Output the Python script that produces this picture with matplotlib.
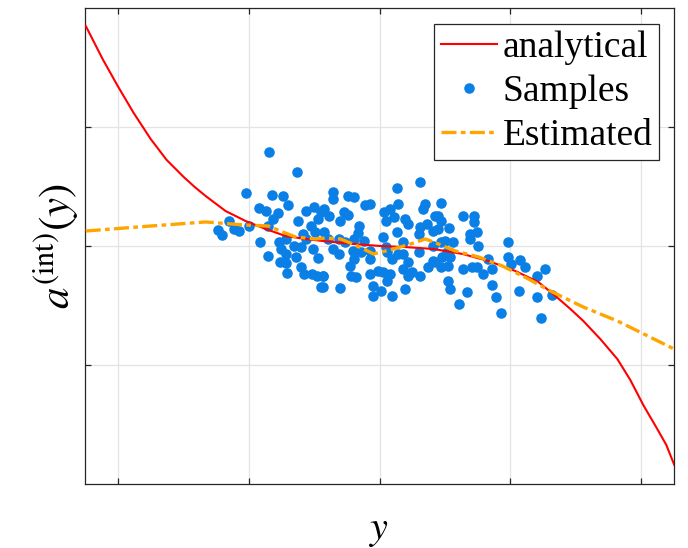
import numpy as np
import matplotlib
matplotlib.use("Agg")
import matplotlib.pyplot as plt

plt.rcParams["font.family"] = ["Liberation Serif", "DejaVu Serif"]
plt.rcParams["mathtext.fontset"] = "stix"

# analytical curve
analytic_x = [-2.244, -2.115, -2.000, -1.878, -1.748, -1.626, -1.496, -1.412, -1.328,
              -1.176, -1.023, -0.870, -0.718, -0.565, -0.435, -0.198, 0.008, 0.183,
              0.412, 0.634, 0.832, 1.038, 1.214, 1.344, 1.458, 1.557, 1.687, 1.817,
              1.916, 2.015, 2.122, 2.191, 2.252]
analytic_y = [1.849, 1.571, 1.345, 1.118, 0.899, 0.723, 0.580, 0.496, 0.420,
              0.294, 0.210, 0.143, 0.084, 0.059, 0.042, 0.017, 0.000, -0.008,
              -0.025, -0.067, -0.126, -0.210, -0.303, -0.420, -0.529, -0.630, -0.782, -0.950,
              -1.126, -1.336, -1.538, -1.672, -1.840]

# estimated curve
est_x = [-2.244, -1.748, -1.328, -1.023, -0.847, -0.740, -0.641, -0.489, -0.412,
         -0.298, -0.168, -0.046, 0.107, 0.237, 0.351, 0.450, 0.580, 0.756,
         0.939, 1.137, 1.321, 1.557, 1.817, 2.252]
est_y = [0.126, 0.168, 0.202, 0.176, 0.168, 0.118, 0.076, 0.059, 0.067,
         0.059, 0.000, -0.067, -0.025, 0.017, 0.059, 0.017, -0.042, -0.092,
         -0.168, -0.277, -0.387, -0.513, -0.630, -0.866]

# samples
sample_x = [
    -0.847, -0.634, -1.023, -0.824, -0.740, -0.702, -0.924, -0.870, -0.779, -0.817,
    -0.626, -0.565, -0.504, -0.450, -0.527, -1.153, -1.237, -1.206, -1.115, -1.076,
    -1.000, -0.855, -0.916, -0.855, -0.718, -0.771, -0.756, -0.718, -0.641, -0.656,
    -0.603, -0.565, -0.511, -0.473, -0.763, -0.718, -0.710, -0.603, -0.580, -0.519,
    -0.481, -0.435, -0.450, -0.588, -0.489, -0.466,
    -0.359, -0.359, -0.244, -0.198, -0.107, -0.069, 0.130, 0.313, -0.427, -0.382,
    -0.305, -0.275, -0.244, -0.160, -0.168, -0.427, -0.397, -0.313, -0.260, -0.122,
    -0.198, 0.031, 0.084, 0.107, 0.145, 0.046, 0.198, 0.221, 0.130, 0.023,
    0.351, 0.336, 0.427, 0.366, 0.313, 0.298, 0.405, -0.359, -0.313, -0.206,
    -0.198, -0.229, -0.221, -0.183, -0.435, -0.435, -0.298, -0.076, -0.069, -0.046,
    -0.046, 0.008, -0.015, 0.023, 0.084, 0.061, 0.092, 0.061, 0.099, 0.145,
    0.183, 0.214, 0.183, 0.214, 0.252, 0.198, 0.313, 0.298, 0.374, 0.412,
    0.412, 0.183, 0.046, -0.145, -0.069,
    0.473, 0.450, 0.466, 0.450, 0.534, 0.641, 0.725, 0.725, 0.748, 0.695,
    0.695, 0.756, 0.565, 0.504, 0.466, 0.519, 0.542, 0.481, 0.527, 0.466,
    0.427, 0.641, 0.710, 0.748, 0.832, 0.794, 0.863, 0.527, 0.542, 0.672,
    0.863, 0.893, 0.611, 0.931, 0.985, 0.985, 1.008, 1.076, 1.115, 1.069,
    1.206, 1.267, 1.206, 1.321, 1.237,
]
sample_y = [
    0.790, 0.622, 0.445, 0.429, 0.420, 0.345, 0.319, 0.294, 0.277, 0.227,
    0.210, 0.294, 0.328, 0.286, 0.168, 0.210, 0.134, 0.092, 0.143, 0.126,
    0.168, 0.168, 0.034, -0.084, 0.059, 0.034, -0.025, -0.067, -0.092, 0.000,
    -0.008, 0.059, -0.025, -0.101, -0.134, -0.143, -0.227, -0.176, -0.235, -0.235,
    -0.252, -0.252, -0.345, 0.101, 0.118, 0.227,
    0.454, 0.395, 0.420, 0.412, 0.345, 0.353, 0.487, 0.538, 0.311, 0.252,
    0.210, 0.286, 0.261, 0.168, 0.109, 0.118, 0.059, 0.059, 0.034, 0.042,
    0.059, 0.286, 0.311, 0.244, 0.353, 0.210, 0.227, 0.185, 0.118, 0.076,
    0.353, 0.311, 0.252, 0.185, 0.160, 0.101, 0.126, -0.025, -0.067, -0.042,
    -0.109, -0.168, -0.252, -0.261, -0.252, -0.345, -0.353, -0.109, -0.235, -0.336,
    -0.420, -0.378, -0.210, -0.218, -0.235, -0.294, -0.420, -0.050, -0.109, -0.067,
    -0.067, -0.134, -0.193, -0.252, -0.218, -0.361, -0.252, -0.050, -0.176, -0.126,
    0.000, 0.034, -0.008, -0.050, -0.042,
    0.361, 0.252, 0.210, 0.143, 0.151, 0.252, 0.252, 0.202, 0.118, 0.101,
    0.059, 0.000, 0.034, 0.042, 0.034, -0.050, -0.092, -0.092, -0.168, -0.176,
    -0.134, -0.193, -0.176, -0.176, -0.109, -0.235, -0.193, -0.294, -0.361, -0.387,
    -0.328, -0.429, -0.487, -0.563, 0.034, -0.092, -0.151, -0.118, -0.176, -0.378,
    -0.252, -0.193, -0.429, -0.412, -0.605,
]

fig = plt.figure(figsize=(6.88, 5.48), dpi=100)
ax = fig.add_axes([0.1235, 0.1168, 0.8562, 0.8686])

ax.plot(analytic_x, analytic_y, color="#ff0000", lw=1.5, label="analytical", zorder=3)
ax.plot(sample_x, sample_y, ls="none", marker="o", ms=7.6, mec="none",
        color="#0a7fe6", label="Samples", zorder=2)
ax.plot(est_x, est_y, color="#ffa500", lw=2.4, dashes=[4.5, 1.3, 1.4, 1.3],
        label="Estimated", zorder=4)

ax.set_xlim(-2.25, 2.25)
ax.set_ylim(-2, 2)
ax.set_xticks([-2, -1, 0, 1, 2])
ax.set_yticks([-1, 0, 1])
ax.tick_params(direction="in", length=4.5, width=0.9, top=True, right=True,
               labelbottom=False, labelleft=False, color="#262626")
ax.grid(True, color="#e3e3e3", lw=0.9)
ax.set_axisbelow(True)
for s in ax.spines.values():
    s.set_color("#262626")
    s.set_linewidth(0.9)

ax.set_xlabel(r"$y$", fontsize=29)
ax.set_ylabel(r"$a^{(\mathrm{int})}(y)$", fontsize=31)
ax.xaxis.set_label_coords(0.5, -0.058)
ax.yaxis.set_label_coords(-0.007, 0.5)

leg = ax.legend(loc="upper right", bbox_to_anchor=(0.9745, 0.966), borderaxespad=0,
                fontsize=27, handlelength=1.5, handletextpad=0.15, borderpad=0.18,
                labelspacing=0.25, fancybox=False, framealpha=1)
leg.get_frame().set_edgecolor("#262626")
leg.get_frame().set_linewidth(0.9)

fig.savefig("out.png", dpi=100)
